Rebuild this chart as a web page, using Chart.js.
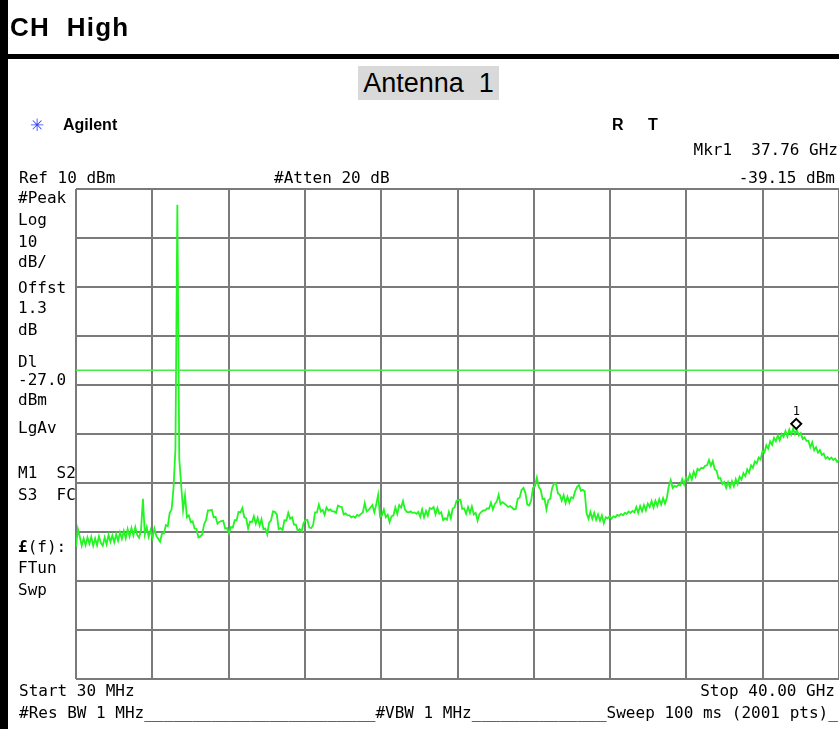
<!DOCTYPE html>
<html><head><meta charset="utf-8">
<script src="https://cdn.jsdelivr.net/npm/chart.js@4/dist/chart.umd.min.js"></script>
<style>
html,body{margin:0;padding:0;background:#fff;}
body{width:839px;height:729px;position:relative;overflow:hidden;font-family:"Liberation Sans",Arial,sans-serif;}
#wrap{position:absolute;left:0;top:0;width:839px;height:729px;}
.t{position:absolute;white-space:pre;line-height:1;color:#000;}
.m{font-family:"DejaVu Sans Mono","Liberation Mono",monospace;font-size:16px;}
.r{text-align:right;}
.bar{position:absolute;background:#000;}
</style></head><body>
<div id="wrap"><canvas id="c"></canvas></div>
<div class="bar" style="left:0;top:0;width:8px;height:729px"></div>
<div class="bar" style="left:8px;top:54px;width:831px;height:5px"></div>
<div class="t" style="left:10px;top:14px;font-weight:bold;font-size:26px;letter-spacing:1.2px">CH  High</div>
<div class="t" style="left:358px;top:66px;width:141px;height:34px;background:#d9d9d9;font-size:27px;text-align:center;line-height:34px">Antenna  1</div>
<div class="t" style="left:30px;top:117px;font-size:17px;color:#3344ff">✳</div>
<div class="t" style="left:63px;top:117px;font-weight:bold;font-size:16px">Agilent</div>
<div class="t" style="left:612px;top:117px;font-weight:bold;font-size:16px">R</div>
<div class="t" style="left:648px;top:117px;font-weight:bold;font-size:16px">T</div>
<div class="t m r" style="right:1px;top:142px">Mkr1  37.76 GHz</div>
<div class="t m" style="left:19px;top:170px">Ref 10 dBm</div>
<div class="t m" style="left:274px;top:170px">#Atten 20 dB</div>
<div class="t m r" style="right:4px;top:170px">-39.15 dBm</div>
<div class="t m" style="left:18px;top:190px">#Peak</div>
<div class="t m" style="left:18px;top:212px">Log</div>
<div class="t m" style="left:18px;top:234px">10</div>
<div class="t m" style="left:18px;top:254px">dB/</div>
<div class="t m" style="left:18px;top:280px">Offst</div>
<div class="t m" style="left:18px;top:300px">1.3</div>
<div class="t m" style="left:18px;top:322px">dB</div>
<div class="t m" style="left:18px;top:354px">Dl</div>
<div class="t m" style="left:18px;top:372px">-27.0</div>
<div class="t m" style="left:18px;top:392px">dBm</div>
<div class="t m" style="left:18px;top:420px">LgAv</div>
<div class="t m" style="left:18px;top:465px">M1  S2</div>
<div class="t m" style="left:18px;top:487px">S3  FC</div>
<div class="t m" style="left:18px;top:539px"><b>£</b>(f):</div>
<div class="t m" style="left:18px;top:560px">FTun</div>
<div class="t m" style="left:18px;top:582px">Swp</div>
<div class="t m" style="left:19px;top:683px">Start 30 MHz</div>
<div class="t m r" style="right:4px;top:683px">Stop 40.00 GHz</div>
<div class="t m" style="left:19px;top:705px">#Res BW 1 MHz________________________#VBW 1 MHz______________Sweep 100 ms (2001 pts)_</div>
<script>
// ---- data ----
const freqStartGHz = 0.03;
const freqStopGHz = 40.0;
const refLevelDbm = 10;
const bottomLevelDbm = -90;
const displayLineDbm = -27.0;
const markerFreqGHz = 37.76;
const markerLevelDbm = -39.15;
const markerLabel = "1";
const levelDbm = [
-63.0,-59.4,-61.0,-62.8,-61.3,-62.7,-61.1,-62.4,-61.0,-62.8,
-61.3,-62.7,-60.9,-62.2,-62.8,-61.1,-62.5,-60.6,-62.0,-60.7,
-62.1,-60.5,-61.8,-60.1,-61.4,-59.8,-61.3,-59.4,-60.9,-59.2,
-60.7,-59.0,-60.6,-61.2,-59.6,-53.2,-60.5,-59.0,-61.0,-59.6,
-61.2,-59.3,-60.8,-61.4,-62.0,-60.2,-60.3,-58.6,-58.8,-56.1,
-55.4,-51.0,-43.0,6.8,-45.0,-50.5,-55.5,-52.5,-57.0,-56.6,
-58.0,-57.8,-59.3,-59.4,-61.1,-60.9,-60.5,-58.4,-57.6,-55.6,
-55.6,-55.5,-57.0,-56.9,-58.3,-57.9,-57.8,-57.7,-59.3,-59.2,
-60.3,-59.0,-59.1,-57.6,-57.6,-55.9,-56.0,-55.1,-57.0,-57.2,
-59.3,-57.9,-58.0,-56.8,-58.3,-57.1,-58.7,-57.4,-59.4,-59.3,
-60.5,-58.1,-57.6,-55.8,-55.9,-56.4,-59.4,-59.2,-59.6,-57.6,
-57.7,-56.1,-57.3,-57.0,-58.5,-58.5,-59.8,-59.4,-59.9,-58.2,
-57.6,-57.5,-59.1,-59.2,-58.6,-56.0,-56.0,-54.4,-55.8,-55.5,
-56.5,-55.0,-55.6,-55.4,-55.8,-55.8,-56.1,-54.6,-54.8,-54.9,
-56.4,-56.2,-56.6,-56.6,-57.0,-56.8,-57.1,-56.5,-56.7,-56.3,
-56.0,-54.1,-55.8,-55.5,-55.0,-54.5,-56.0,-54.4,-52.4,-56.9,
-56.6,-55.4,-57.0,-56.5,-58.0,-56.8,-56.6,-55.0,-56.3,-54.5,
-55.0,-53.7,-55.4,-55.9,-56.0,-55.8,-56.1,-56.0,-56.3,-55.9,
-56.9,-55.4,-57.0,-55.7,-56.7,-55.1,-55.3,-54.9,-56.4,-55.1,
-56.3,-56.0,-57.6,-57.2,-57.5,-55.9,-57.2,-55.2,-55.0,-53.6,
-53.5,-53.4,-55.3,-55.2,-56.3,-54.9,-56.1,-54.8,-56.4,-56.1,
-57.7,-56.3,-55.9,-55.6,-55.6,-55.2,-55.2,-54.0,-55.4,-54.3,
-53.8,-52.4,-54.3,-53.9,-54.2,-54.5,-54.9,-54.7,-55.0,-55.4,
-55.3,-53.2,-53.0,-51.4,-51.0,-52.0,-54.4,-54.6,-53.6,-51.0,
-50.6,-48.9,-50.8,-51.4,-53.3,-53.2,-55.4,-53.5,-53.2,-51.0,
-50.1,-50.1,-52.1,-52.4,-53.6,-52.5,-54.1,-52.8,-54.0,-52.9,
-53.1,-51.7,-50.8,-50.4,-51.6,-51.4,-51.7,-56.2,-57.3,-55.9,
-57.3,-56.1,-57.5,-56.4,-57.7,-56.6,-58.2,-57.0,-57.2,-56.8,
-57.3,-56.8,-57.0,-56.5,-56.7,-56.3,-56.6,-56.1,-56.3,-55.8,
-56.1,-55.7,-56.0,-54.9,-56.1,-54.7,-55.8,-54.5,-55.6,-54.2,
-54.9,-53.7,-55.0,-53.6,-54.7,-53.3,-54.4,-53.1,-54.2,-53.0,
-50.6,-49.4,-51.0,-50.6,-50.8,-50.4,-50.5,-49.2,-50.3,-48.9,
-49.5,-48.2,-49.3,-47.7,-48.7,-47.1,-47.4,-46.9,-47.0,-46.5,
-46.4,-45.3,-46.5,-45.5,-47.2,-47.5,-49.1,-49.0,-50.2,-49.8,
-51.0,-49.8,-50.9,-49.6,-50.7,-49.2,-50.2,-48.7,-49.3,-48.0,
-48.6,-47.2,-47.9,-46.4,-46.9,-45.6,-46.0,-44.8,-45.2,-43.5,
-43.8,-42.3,-43.0,-41.5,-42.2,-40.8,-41.5,-40.3,-41.3,-40.0,
-40.6,-39.4,-40.5,-39.1,-40.1,-38.9,-40.0,-39.15,-40.3,-39.8,
-41.0,-40.7,-41.4,-41.4,-42.7,-41.7,-43.3,-42.7,-43.8,-43.3,
-44.3,-44.0,-45.0,-44.7,-45.2,-44.8,-45.3,-45.0,-45.7,-45.3
];
const gridDivisions = 10;

// ---- build chart ----
const span = freqStopGHz - freqStartGHz;
const tracePoints = levelDbm.map((v, i) => ({ x: freqStartGHz + i * span / (levelDbm.length - 1), y: v }));
const dlPoints = [{ x: freqStartGHz, y: displayLineDbm }, { x: freqStopGHz, y: displayLineDbm }];

const markerPlugin = {
  id: 'markerPlugin',
  afterDatasetsDraw(chart) {
    const { ctx, scales } = chart;
    const px = scales.x.getPixelForValue(markerFreqGHz);
    const py = scales.y.getPixelForValue(markerLevelDbm) - 6;
    ctx.save();
    ctx.beginPath();
    ctx.moveTo(px, py - 5); ctx.lineTo(px + 5, py); ctx.lineTo(px, py + 5); ctx.lineTo(px - 5, py); ctx.closePath();
    ctx.fillStyle = '#fff'; ctx.fill();
    ctx.lineWidth = 2; ctx.strokeStyle = '#000'; ctx.stroke();
    ctx.fillStyle = '#000';
    ctx.font = '12px "DejaVu Sans Mono", monospace';
    ctx.textAlign = 'center'; ctx.textBaseline = 'bottom';
    ctx.fillText(markerLabel, px, py - 6);
    ctx.restore();
  }
};

new Chart(document.getElementById('c'), {
  type: 'line',
  data: {
    datasets: [
      { data: tracePoints, borderColor: '#22f522', borderWidth: 1.8, pointRadius: 0, tension: 0, order: 2 },
      { data: dlPoints, borderColor: '#44ee44', borderWidth: 1.5, pointRadius: 0, tension: 0, order: 1 }
    ]
  },
  options: {
    responsive: true,
    maintainAspectRatio: false,
    animation: false,
    events: [],
    layout: { padding: { left: 76, top: 189, right: 0, bottom: 50 } },
    plugins: { legend: { display: false }, tooltip: { enabled: false } },
    scales: {
      x: {
        type: 'linear', min: freqStartGHz, max: freqStopGHz,
        afterBuildTicks(scale) {
          const t = [];
          for (let k = 0; k <= gridDivisions; k++) t.push({ value: freqStartGHz + k * span / gridDivisions });
          scale.ticks = t;
        },
        ticks: { display: false },
        grid: { color: '#7a7a7a', lineWidth: 2, drawTicks: false },
        border: { display: false }
      },
      y: {
        type: 'linear', min: bottomLevelDbm, max: refLevelDbm,
        ticks: { display: false, stepSize: 10 },
        grid: { color: '#7a7a7a', lineWidth: 2, drawTicks: false },
        border: { display: false }
      }
    }
  },
  plugins: [markerPlugin]
});
</script>
</body></html>
